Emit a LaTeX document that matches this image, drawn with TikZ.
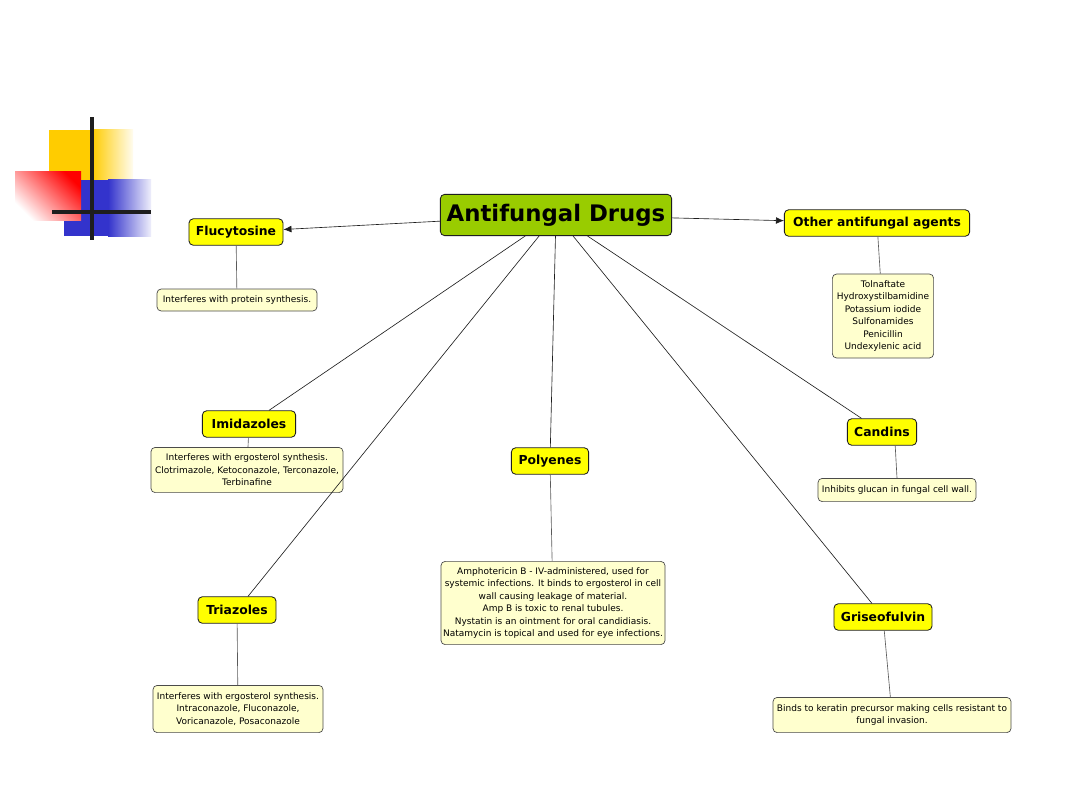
\documentclass[tikz,border=0pt]{standalone}
\usepackage{fontspec}
\setmainfont{DejaVu Sans}
\usetikzlibrary{arrows.meta,positioning}
\definecolor{ink}{RGB}{30,30,30}
\definecolor{wire}{RGB}{90,90,90}
\definecolor{topgreen}{RGB}{153,204,0}
\definecolor{tagyellow}{RGB}{255,255,0}
\definecolor{notefill}{RGB}{255,255,206}
\definecolor{logoyellow}{RGB}{255,204,0}
\definecolor{logoblue}{RGB}{51,51,204}
\definecolor{logored}{RGB}{255,0,0}

\begin{document}
\begin{tikzpicture}[
  x=0.025cm,y=-0.025cm,
  hub/.style={draw=ink, fill=topgreen, rounded corners=3pt, line width=0.6pt,
              font=\fontsize{16.2}{19}\selectfont\bfseries, inner sep=0pt,
              minimum width=5.78cm, minimum height=1.03cm},
  drug/.style={draw=ink, fill=tagyellow, rounded corners=3pt, line width=0.6pt,
               font=\fontsize{8.8}{10}\selectfont\bfseries, inner sep=0pt,
               minimum height=0.66cm},
  note/.style={draw=ink!80, fill=notefill, rounded corners=3pt, line width=0.5pt,
               font=\fontsize{6.4}{8.8}\selectfont, align=center, inner sep=0pt},
  branch/.style={draw=ink, line width=0.45pt},
  pointer/.style={branch, -{Latex[length=2mm,width=1.7mm]}},
  link/.style={draw=wire, line width=0.45pt}
]
\useasboundingbox (0,0) rectangle (1080,810);
\fill[white] (0,0) rectangle (1080,810);

% Corner logo.
\fill[logoyellow] (49,130) rectangle (92,180);
\shade[left color=logoyellow, right color=logoyellow!6] (92,129) rectangle (133,180);
\fill[logoblue] (64,180) rectangle (108,236);
\shade[left color=logoblue, right color=logoblue!8] (108,179) rectangle (151,236);
\shade[top color=logored, bottom color=white, shading angle=-45] (15,171) rectangle (81,220);
\draw[ink, line width=2.8pt] (92,117) -- (92,240);
\draw[ink, line width=2.4pt] (52,212) -- (151,212);

% Central concept and the drug classes.
\node[hub] (main) at (556,215) {Antifungal Drugs};

\node[drug, minimum width=2.35cm] (fluc) at (236,232) {Flucytosine};
\node[drug, minimum width=4.63cm] (other) at (877,223) {Other antifungal agents};
\node[drug, minimum width=2.33cm] (imid) at (249,424) {Imidazoles};
\node[drug, minimum width=1.93cm] (poly) at (550,461) {Polyenes};
\node[drug, minimum width=1.73cm] (cand) at (882,432) {Candins};
\node[drug, minimum width=1.95cm] (tri) at (237,610) {Triazoles};
\node[drug, minimum width=2.45cm] (gris) at (883,617) {Griseofulvin};

% Notes under each class.
\node[note, minimum width=4.0cm, minimum height=0.55cm] (flucd) at (237,300)
  {Interferes with protein synthesis.};
\node[note, minimum width=2.53cm, minimum height=2.1cm] (otherd) at (883,316)
  {Tolnaftate\\Hydroxystilbamidine\\Potassium iodide\\Sulfonamides\\Penicillin\\Undexylenic acid};
\node[note, minimum width=4.8cm, minimum height=1.13cm] (imidd) at (247,470)
  {Interferes with ergosterol synthesis.\\Clotrimazole, Ketoconazole, Terconazole,\\Terbinafine};
\node[note, minimum width=5.6cm, minimum height=2.08cm] (polyd) at (553,603)
  {Amphotericin B - IV-administered, used for\\systemic infections. It binds to ergosterol in cell\\wall causing leakage of material.\\Amp B is toxic to renal tubules.\\Nystatin is an ointment for oral candidiasis.\\Natamycin is topical and used for eye infections.};
\node[note, minimum width=3.95cm, minimum height=0.58cm] (candd) at (897,490)
  {Inhibits glucan in fungal cell wall.};
\node[note, minimum width=4.25cm, minimum height=1.18cm] (trid) at (238,709)
  {Interferes with ergosterol synthesis.\\Intraconazole, Fluconazole,\\Voricanazole, Posaconazole};
\node[note, minimum width=5.95cm, minimum height=0.88cm] (grisd) at (892,715)
  {Binds to keratin precursor making cells resistant to\\fungal invasion.};

% Connectors from the hub.
\draw[pointer] (main) -- (fluc);
\draw[pointer] (main) -- (other);
\draw[branch] (main) -- (imid);
\draw[branch] (main) -- (tri);
\draw[branch] (main) -- (poly);
\draw[branch] (main) -- (gris);
\draw[branch] (main) -- (cand);

% Class to note.
\draw[link] (fluc) -- (flucd);
\draw[link] (other) -- (otherd);
\draw[link] (imid) -- (imidd);
\draw[link] (poly) -- (polyd);
\draw[link] ([xshift=0.33cm]cand.south) -- (candd.north);
\draw[link] (tri) -- (trid);
\draw[link] (gris) -- (grisd);

\end{tikzpicture}
\end{document}
